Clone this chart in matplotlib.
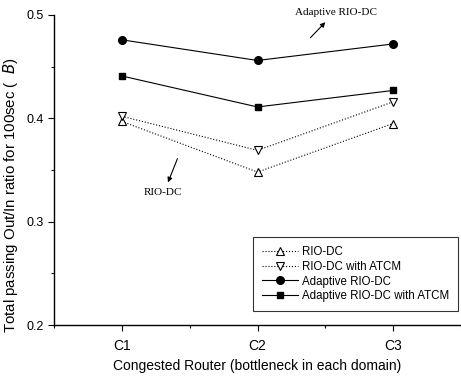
import numpy as np
import matplotlib.pyplot as plt
from matplotlib.ticker import MultipleLocator, FormatStrFormatter

plt.rcParams['font.family'] = ['Liberation Sans', 'DejaVu Sans']

routers = ["C1", "C2", "C3"]
rio_dc = [0.397, 0.348, 0.395]
rio_dc_atcm = [0.402, 0.369, 0.416]
adaptive = [0.476, 0.456, 0.472]
adaptive_atcm = [0.441, 0.411, 0.427]

x = np.arange(1, len(routers) + 1)

fig = plt.figure(figsize=(4.61, 3.76), dpi=100)
ax = fig.add_axes([54/461, 51/376, 407/461, 310/376])

ax.plot(x, rio_dc, ls=":", color="k", lw=0.8, marker="^", ms=6,
        mfc="white", mec="k", mew=0.8, label="RIO-DC")
ax.plot(x, rio_dc_atcm, ls=":", color="k", lw=0.8, marker="v", ms=6,
        mfc="white", mec="k", mew=0.8, label="RIO-DC with ATCM")
ax.plot(x, adaptive, ls="-", color="k", lw=0.8, marker="o", ms=5.5,
        label="Adaptive RIO-DC")
ax.plot(x, adaptive_atcm, ls="-", color="k", lw=0.8, marker="s", ms=5,
        label="Adaptive RIO-DC with ATCM")

ax.set_xlim(0.5, 3.5)
ax.set_ylim(0.2, 0.5)
ax.set_xticks(x)
ax.set_xticklabels(routers)
ax.xaxis.set_minor_locator(MultipleLocator(0.5))
ax.yaxis.set_major_locator(MultipleLocator(0.1))
ax.yaxis.set_minor_locator(MultipleLocator(0.05))
ax.yaxis.set_major_formatter(FormatStrFormatter("%.1f"))

for side in ("top", "right"):
    ax.spines[side].set_visible(False)
for side in ("left", "bottom"):
    ax.spines[side].set_linewidth(1.0)

ax.tick_params(axis="both", which="major", direction="out", length=4,
               width=0.8, labelsize=9)
ax.tick_params(axis="both", which="minor", direction="out", length=2,
               width=0.8)
ax.tick_params(axis="x", labelsize=10, pad=6)

ax.set_xlabel("Congested Router (bottleneck in each domain)", fontsize=10)
ax.xaxis.set_label_coords(0.5, -0.11)
ax.set_ylabel(r"Total passing Out/In ratio for 100sec (  $B$)", fontsize=10.8)
ax.yaxis.set_label_coords(-0.084, 0.418)

leg = ax.legend(loc="lower right", bbox_to_anchor=(0.992, 0.045),
                fontsize=8.3, frameon=True, fancybox=False, edgecolor="k",
                handlelength=3.2, handletextpad=0.3, labelspacing=0.25,
                borderpad=0.75, borderaxespad=0)
leg.get_frame().set_linewidth(0.8)

# callouts for the two RIO-DC families
arrow = dict(arrowstyle="-|>", color="k", lw=0.8, mutation_scale=7,
             shrinkA=0, shrinkB=0)
ax.annotate("", xy=(2.5, 0.493), xytext=(2.39, 0.478), arrowprops=arrow)
ax.text(2.58, 0.502, "Adaptive RIO-DC", family="Liberation Serif",
        fontsize=8, ha="center", va="center", clip_on=False)
ax.annotate("", xy=(1.34, 0.338), xytext=(1.41, 0.361), arrowprops=arrow)
ax.text(1.30, 0.328, "RIO-DC", family="Liberation Serif",
        fontsize=8, ha="center", va="center")

fig.savefig("out.png", dpi=100)
